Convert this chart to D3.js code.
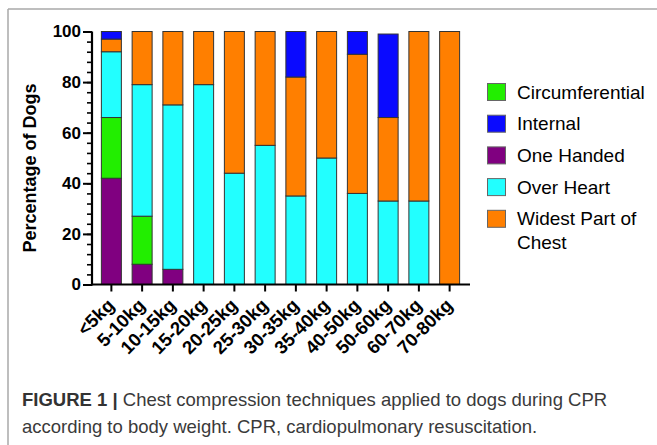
<!DOCTYPE html>
<html><head><meta charset="utf-8">
<script src="https://cdn.jsdelivr.net/npm/d3@7"></script>
<style>
body{margin:0;background:#fff;}
svg{display:block;font-family:Arial,"Liberation Sans",sans-serif;}
</style></head>
<body>
<svg id="chart" width="657" height="445"></svg>
<script>
const categories = ["<5kg","5-10kg","10-15kg","15-20kg","20-25kg","25-30kg","30-35kg","35-40kg","40-50kg","50-60kg","60-70kg","70-80kg"];
const oneHanded       = [42, 8, 6, 0, 0, 0, 0, 0, 0, 0, 0, 0];
const circumferential = [24,19, 0, 0, 0, 0, 0, 0, 0, 0, 0, 0];
const overHeart       = [26,52,65,79,44,55,35,50,36,33,33, 0];
const widestPart      = [ 5,21,29,21,56,45,47,50,55,33,67,100];
const internal        = [ 3, 0, 0, 0, 0, 0,18, 0, 9,33, 0, 0];
const yTicks = [0,20,40,60,80,100];

const seriesNames = ["One Handed","Circumferential","Over Heart","Widest Part of Chest","Internal"];
const seriesValues = [oneHanded, circumferential, overHeart, widestPart, internal];
const colors = {"Circumferential":"#22ee00","Internal":"#0a0aff","One Handed":"#800080","Over Heart":"#22ffff","Widest Part of Chest":"#ff7f00"};
const legendOrder = ["Circumferential","Internal","One Handed","Over Heart","Widest Part of Chest"];

const table = categories.map((c,i)=>{
  const o = {cat:c};
  seriesNames.forEach((s,j)=>o[s]=seriesValues[j][i]);
  return o;
});
const stacked = d3.stack().keys(seriesNames)(table);

const svg = d3.select("#chart");

// frame
svg.append("line").attr("x1",8).attr("x2",8).attr("y1",9).attr("y2",445).attr("stroke","#a8a8a8").attr("stroke-width",1.5);
svg.append("line").attr("x1",8).attr("x2",657).attr("y1",9).attr("y2",9).attr("stroke","#a8a8a8").attr("stroke-width",1.5);

const x = d3.scaleBand().domain(categories).range([96,465]).paddingInner(0.35).paddingOuter(0.175);
const y = d3.scaleLinear().domain([0,100]).range([284.5,31.5]);

// bars
svg.append("g").selectAll("g").data(stacked).join("g")
  .attr("fill",d=>colors[d.key])
  .selectAll("rect").data(d=>d.filter(p=>p[1]-p[0]>0)).join("rect")
  .attr("x",d=>x(d.data.cat))
  .attr("width",x.bandwidth())
  .attr("y",d=>y(d[1]))
  .attr("height",d=>y(d[0])-y(d[1]))
  .attr("stroke","#333")
  .attr("stroke-width",1);

// y axis minor ticks
const yMinor = d3.axisLeft(y).tickValues(d3.range(0,101,4)).tickSize(5).tickFormat("");
const gm = svg.append("g").attr("transform","translate(92,0)").call(yMinor);
gm.select(".domain").remove();
gm.selectAll("line").attr("stroke","#000").attr("stroke-width",1.6);

// y axis
const yAxis = d3.axisLeft(y).tickValues(yTicks).tickSize(9).tickPadding(2);
const gy = svg.append("g").attr("transform","translate(92,0)").call(yAxis);
gy.select(".domain").attr("stroke","#000").attr("stroke-width",2.2).attr("d","M0,31.5V285.5");
gy.selectAll("line").attr("stroke","#000").attr("stroke-width",2);
gy.selectAll("text").attr("font-size",17).attr("font-weight","bold").attr("fill","#000").attr("font-family","Arial, Liberation Sans, sans-serif");

// x axis
const xAxis = d3.axisBottom(x).tickSize(7).tickSizeOuter(0);
const gx = svg.append("g").attr("transform","translate(0,284.5)").call(xAxis);
gx.select(".domain").attr("stroke","#000").attr("stroke-width",2.2).attr("d","M91,0H470");
gx.selectAll("line").attr("stroke","#000").attr("stroke-width",2);
gx.selectAll("text")
  .attr("font-size",18.5).attr("font-weight","bold").attr("fill","#000").attr("font-family","Arial, Liberation Sans, sans-serif")
  .attr("text-anchor","end").attr("dy",null).attr("y",0)
  .attr("transform","translate(4,22) rotate(-45)");

// y title
svg.append("text").attr("transform","translate(36,168) rotate(-90)")
  .attr("text-anchor","middle").attr("font-size",18).attr("font-weight","bold").text("Percentage of Dogs");

// legend
const lg = svg.append("g");
legendOrder.forEach((k,i)=>{
  const yy = 83.5 + i*31.7;
  lg.append("rect").attr("x",487.5).attr("y",yy).attr("width",18).attr("height",17)
    .attr("fill",colors[k]).attr("stroke","#666").attr("stroke-width",1);
  const t = lg.append("text").attr("x",517).attr("y",yy+15).attr("font-size",19).attr("fill","#000");
  if(k==="Widest Part of Chest"){
    t.append("tspan").attr("x",517).text("Widest Part of");
    t.append("tspan").attr("x",517).attr("dy",24).text("Chest");
  } else t.text(k);
});

// caption
const cap = svg.append("g").attr("font-family","Arial, 'Liberation Sans', sans-serif").attr("font-size",18.5).attr("fill","#3a3a3a");
const l1 = cap.append("text").attr("x",22).attr("y",406);
l1.append("tspan").attr("font-weight","bold").attr("fill","#333").text("FIGURE 1 | ");
l1.append("tspan").text("Chest compression techniques applied to dogs during CPR");
cap.append("text").attr("x",22).attr("y",433).text("according to body weight. CPR, cardiopulmonary resuscitation.");
</script>
</body></html>
